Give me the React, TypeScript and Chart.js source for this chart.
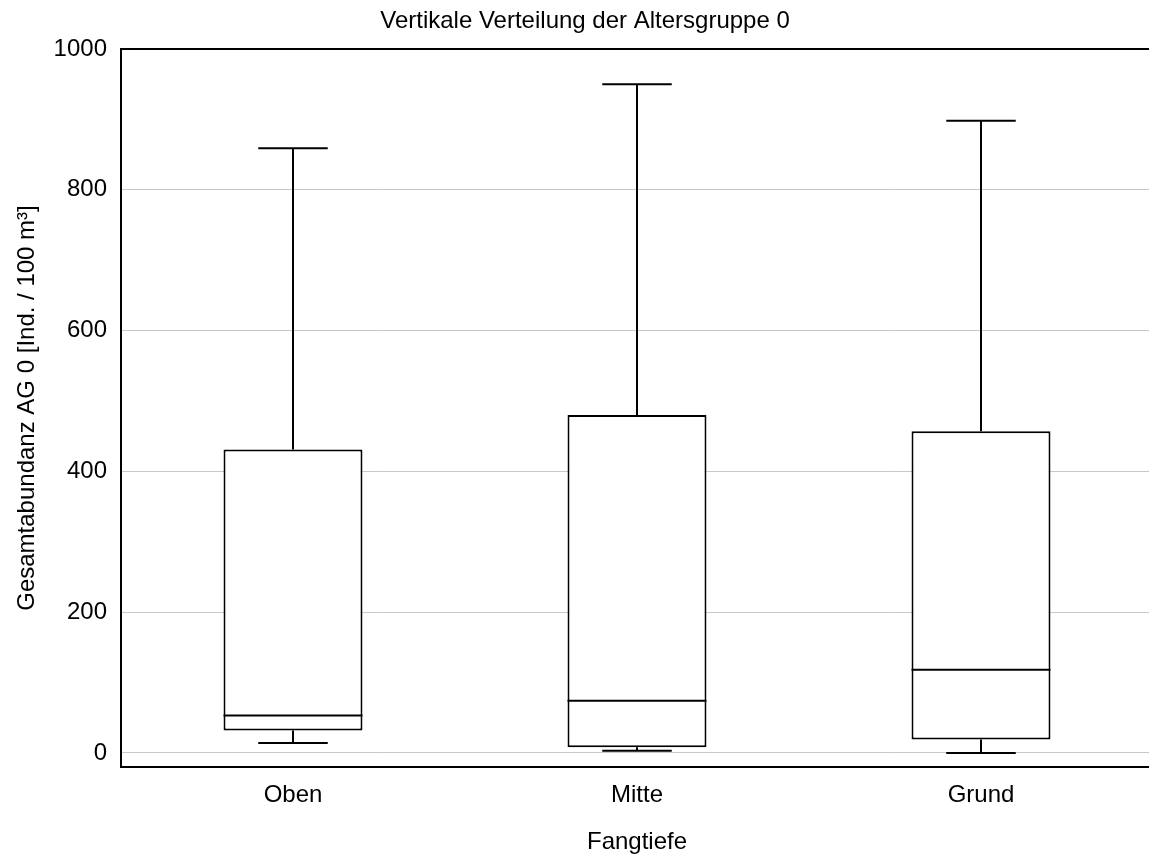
import { useEffect, useRef } from 'react';
import { Chart, registerables } from 'chart.js';

Chart.register(...registerables);

const categories = ['Oben', 'Mitte', 'Grund'];
const whiskerLow = [14, 3, 0];
const quartile1 = [32, 8, 19];
const medians = [53, 74, 118];
const quartile3 = [431, 480, 457];
const whiskerHigh = [859, 950, 898];
const yTickValues = [0, 200, 400, 600, 800, 1000];
const titleText = 'Vertikale Verteilung der Altersgruppe 0';
const xTitleText = 'Fangtiefe';
const yTitleText = 'Gesamtabundanz AG 0 [Ind. / 100 m³]';

const FONT = '"Liberation Sans", Arial, sans-serif';
const FS = 24;

const boxWhiskerPlugin = {
  id: 'boxWhiskers',
  afterDatasetsDraw(chart: any) {
    const meta = chart.getDatasetMeta(0);
    const yScale = chart.scales.y;
    const ctx = chart.ctx;
    ctx.save();
    ctx.strokeStyle = '#000';
    ctx.lineWidth = 2;
    meta.data.forEach((bar: any, i: number) => {
      const { x, width } = bar.getProps(['x', 'width'], true);
      const half = width / 2;
      const cap = width / 4;
      const yMin = yScale.getPixelForValue(whiskerLow[i]);
      const yQ1 = yScale.getPixelForValue(quartile1[i]);
      const yMed = yScale.getPixelForValue(medians[i]);
      const yQ3 = yScale.getPixelForValue(quartile3[i]);
      const yMax = yScale.getPixelForValue(whiskerHigh[i]);
      ctx.beginPath();
      ctx.moveTo(x - half, yMed);
      ctx.lineTo(x + half, yMed);
      ctx.moveTo(x, yQ3);
      ctx.lineTo(x, yMax);
      ctx.moveTo(x - cap, yMax);
      ctx.lineTo(x + cap, yMax);
      ctx.moveTo(x, yQ1);
      ctx.lineTo(x, yMin);
      ctx.moveTo(x - cap, yMin);
      ctx.lineTo(x + cap, yMin);
      ctx.stroke();
    });
    ctx.restore();
  },
};

export default function App() {
  const canvasRef = useRef<HTMLCanvasElement | null>(null);

  useEffect(() => {
    if (!canvasRef.current) return;
    const chart = new Chart(canvasRef.current, {
      type: 'bar',
      data: {
        labels: categories,
        datasets: [
          {
            data: categories.map((_, i) => [quartile1[i], quartile3[i]]) as any,
            backgroundColor: '#ffffff',
            borderColor: '#000000',
            borderWidth: 2,
            borderSkipped: false,
            barPercentage: 0.404,
            categoryPercentage: 1,
          },
        ],
      },
      options: {
        animation: false,
        responsive: false,
        maintainAspectRatio: false,
        devicePixelRatio: 1,
        layout: { padding: { left: 17, top: 0, right: 0, bottom: 0 } },
        plugins: {
          legend: { display: false },
          tooltip: { enabled: false },
          title: {
            display: true,
            text: titleText,
            color: '#000',
            font: { family: FONT, size: FS, weight: 'normal', lineHeight: 1.2 },
            padding: { top: 6.6, bottom: 13.6 },
          },
        },
        scales: {
          x: {
            grid: { display: false, drawTicks: false },
            border: { display: true, color: '#000', width: 2 },
            ticks: {
              color: '#000',
              padding: 13.6,
              font: { family: FONT, size: FS, lineHeight: 1.2 },
            },
            title: {
              display: true,
              text: xTitleText,
              color: '#000',
              font: { family: FONT, size: FS, lineHeight: 1.2 },
              padding: { top: 0, bottom: -1.4 },
            },
            afterFit: (s: any) => {
              s.height = 88;
            },
          },
          y: {
            type: 'linear',
            min: -20,
            max: 1000,
            afterBuildTicks: (s: any) => {
              s.ticks = yTickValues.map((v) => ({ value: v }));
            },
            grid: {
              drawTicks: false,
              color: (c: any) => (c.tick && c.tick.value === 1000 ? '#000' : '#c8c8c8'),
              lineWidth: (c: any) => (c.tick && c.tick.value === 1000 ? 2 : 1),
            },
            border: { display: true, color: '#000', width: 2 },
            ticks: {
              color: '#000',
              padding: 14,
              font: { family: FONT, size: FS, lineHeight: 1.2 },
              callback: (v: any) => String(v),
            },
            title: {
              display: true,
              text: yTitleText,
              color: '#000',
              font: { family: FONT, size: FS, lineHeight: 1.2 },
              padding: { top: -4.4, bottom: 0 },
            },
            afterFit: (s: any) => {
              s.width = 104;
            },
          },
        },
      },
      plugins: [boxWhiskerPlugin],
    });
    return () => chart.destroy();
  }, []);

  return (
    <div
      style={{
        position: 'fixed',
        left: 0,
        top: 0,
        width: 1149,
        height: 855,
        overflow: 'hidden',
        background: '#fff',
      }}
    >
      <canvas ref={canvasRef} width={1153} height={855} style={{ display: 'block' }} />
    </div>
  );
}
